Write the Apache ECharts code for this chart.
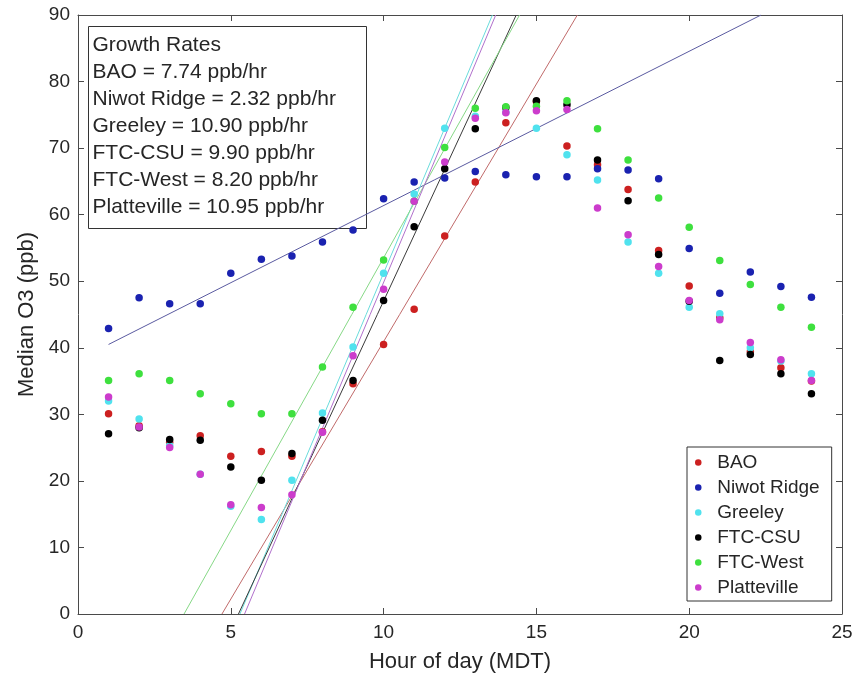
<!DOCTYPE html>
<html>
<head>
<meta charset="utf-8">
<script src="https://cdn.jsdelivr.net/npm/echarts@6/dist/echarts.min.js"></script>
<style>
html,body{margin:0;padding:0;background:#fff;}
#chart{width:866px;height:678px;}
</style>
</head>
<body>
<div id="chart"></div>
<script>
// ---- data ----
const hours = [1,2,3,4,5,6,7,8,9,10,11,12,13,14,15,16,17,18,19,20,21,22,23,24];
const seriesNames = ['BAO','Niwot Ridge','Greeley','FTC-CSU','FTC-West','Platteville'];
const bao       = [30.1,28.3,25.8,26.8,23.7,24.4,23.7,27.4,34.6,40.5,45.8,56.8,64.9,73.8,77.0,70.3,67.5,63.8,54.6,49.3,44.5,39.4,37.0,35.0];
const niwot     = [42.9,47.5,46.6,46.6,51.2,53.3,53.8,55.9,57.7,62.4,64.9,65.5,66.5,66.0,65.7,65.7,66.9,66.7,65.4,54.9,48.2,51.4,49.2,47.6];
const greeley   = [32.0,29.3,25.3,21.0,16.2,14.2,20.1,30.2,40.1,51.2,63.1,73.0,74.8,75.4,73.0,69.0,65.2,55.9,51.2,46.1,45.1,40.0,38.0,36.1];
const ftcCsu    = [27.1,28.0,26.2,26.1,22.1,20.1,24.1,29.1,35.1,47.1,58.2,66.9,72.9,76.1,77.1,76.5,68.2,62.1,54.0,47.0,38.1,39.0,36.1,33.1];
const ftcWest   = [35.1,36.1,35.1,33.1,31.6,30.1,30.1,37.1,46.1,53.2,62.0,70.1,76.0,76.2,76.3,77.1,72.9,68.2,62.5,58.1,53.1,49.5,46.1,43.1];
const platte    = [32.6,28.1,25.0,21.0,16.4,16.0,17.9,27.3,38.8,48.8,62.0,67.9,74.5,75.3,75.6,75.8,61.0,57.0,52.2,47.1,44.2,40.8,38.2,35.1];
const growthRates = [7.74, 2.32, 10.90, 9.90, 8.20, 10.95];
// fit line endpoints [hour, ppb]
const fitBao     = [[4.71,0],[16.34,90]];
const fitNiwot   = [[1,40.5],[22.35,90]];
const fitGreeley = [[5.30,0],[13.56,90]];
const fitFtcCsu  = [[5.25,0],[14.34,90]];
const fitFtcWest = [[3.47,0],[14.45,90]];
const fitPlatte  = [[5.45,0],[13.67,90]];

// ---- styling ----
const dotColors  = ['#cc2020','#1a22b0','#50e2ee','#000000','#3ee03e','#cc3ccc'];
const lineColors = ['#c06a6a','#5a5aa0','#6adcdc','#3a3a3a','#86d886','#b070cc'];
const values = [bao, niwot, greeley, ftcCsu, ftcWest, platte];
const fits = [fitBao, fitNiwot, fitGreeley, fitFtcCsu, fitFtcWest, fitPlatte];
const FONT = "'Liberation Sans', Arial, Helvetica, sans-serif";
const TXT = '#262626';
const AX = '#4a4a4a';

const series = [];
fits.forEach((f, i) => {
  series.push({
    type: 'line', name: seriesNames[i] + ' fit', data: f,
    showSymbol: false, symbol: 'none', silent: true, clip: true,
    lineStyle: { color: lineColors[i], width: 1 }, z: 2
  });
});
values.forEach((v, i) => {
  series.push({
    type: 'scatter', name: seriesNames[i],
    data: hours.map((h, k) => [h, v[k]]),
    symbol: 'circle', symbolSize: 7.5,
    itemStyle: { color: dotColors[i], opacity: 1 }, z: 3 + i
  });
});

const boxLines = ['Growth Rates'].concat(seriesNames.map((n, i) => n + ' = ' + growthRates[i].toFixed(2) + ' ppb/hr'));

const axisCommon = {
  min: 0, type: 'value',
  axisLine: { show: true, onZero: false, lineStyle: { color: AX, width: 1 } },
  axisTick: { show: true, inside: true, length: 6, lineStyle: { color: AX } },
  splitLine: { show: false }
};

const option = {
  animation: false,
  backgroundColor: '#fff',
  grid: { left: 78, right: 24, top: 15, bottom: 64, containLabel: false },
  xAxis: [
    Object.assign({}, axisCommon, {
      max: 25, interval: 5, position: 'bottom',
      axisLabel: { color: TXT, fontSize: 19, fontFamily: FONT, margin: 9 },
      name: 'Hour of day (MDT)', nameLocation: 'middle', nameGap: 37,
      nameTextStyle: { color: TXT, fontSize: 22, fontFamily: FONT }
    }),
    Object.assign({}, axisCommon, {
      max: 25, interval: 5, position: 'top', axisLabel: { show: false }
    })
  ],
  yAxis: [
    Object.assign({}, axisCommon, {
      max: 90, interval: 10, position: 'left',
      axisLabel: { color: TXT, fontSize: 19, fontFamily: FONT, margin: 8 },
      name: 'Median O3 (ppb)', nameLocation: 'middle', nameGap: 36,
      nameTextStyle: { color: TXT, fontSize: 22, fontFamily: FONT }
    }),
    Object.assign({}, axisCommon, {
      max: 90, interval: 10, position: 'right', axisLabel: { show: false }
    })
  ],
  legend: {
    data: seriesNames, orient: 'vertical', left: 687, top: 447,
    icon: 'circle', itemWidth: 28, itemHeight: 6.5, itemGap: 6,
    padding: [6, 12, 4, 8],
    backgroundColor: '#fff', borderColor: '#333', borderWidth: 1,
    textStyle: { color: TXT, fontSize: 19, fontFamily: FONT },
    selectedMode: false
  },
  graphic: [{
    type: 'group', left: 88, top: 26, z: 100,
    children: [
      { type: 'rect', shape: { x: 0, y: 0, width: 278, height: 202 },
        style: { fill: '#fff', stroke: '#333', lineWidth: 1 } },
      { type: 'text', x: 4, y: 5,
        style: { text: boxLines.join('\n'), fill: TXT, font: '21px ' + FONT, lineHeight: 27 } }
    ]
  }],
  series: series
};

const chart = echarts.init(document.getElementById('chart'), null, { renderer: 'canvas' });
chart.setOption(option);
</script>
</body>
</html>
